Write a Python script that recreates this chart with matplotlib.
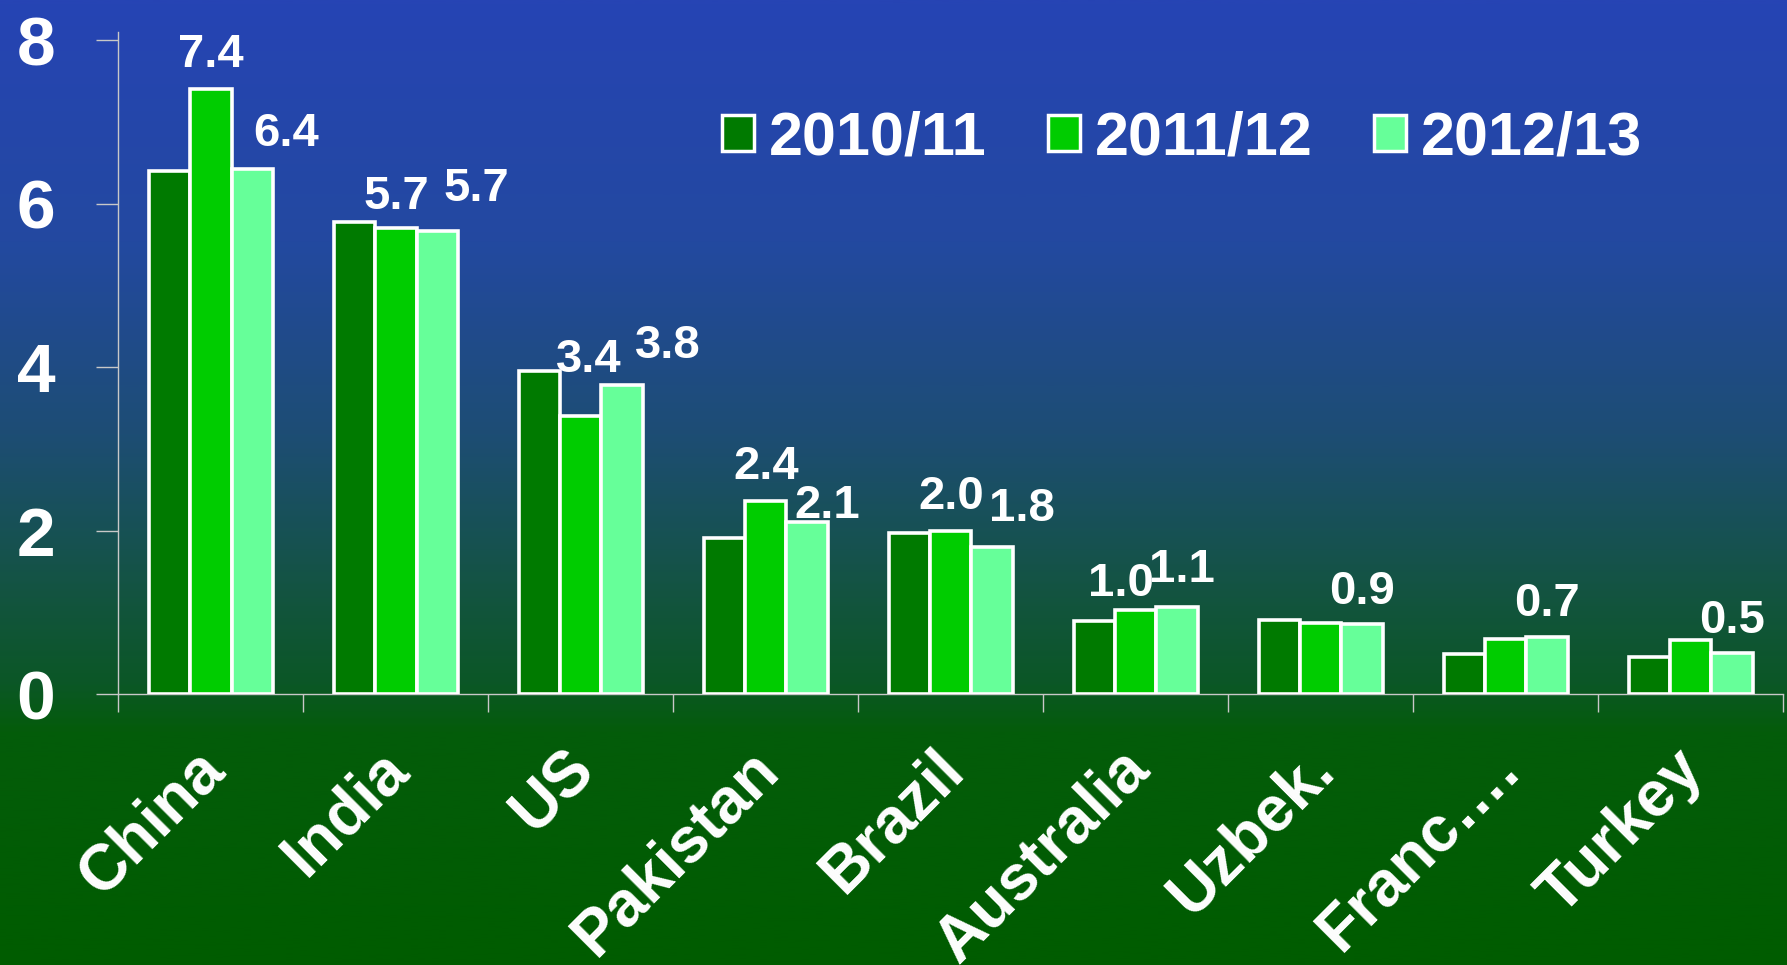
import numpy as np
import matplotlib
matplotlib.use('Agg')
import matplotlib.pyplot as plt
import matplotlib.transforms as mtransforms
from matplotlib.colors import LinearSegmentedColormap
from matplotlib.patches import Patch

countries = ['China', 'India', 'US', 'Pakistan', 'Brazil', 'Australia', 'Uzbek.', 'Franc\u2026.', 'Turkey']
seasons = ['2010/11', '2011/12', '2012/13']
crop_1011 = [6.4, 5.77, 3.95, 1.91, 1.97, 0.89, 0.91, 0.49, 0.45]
crop_1112 = [7.4, 5.7, 3.4, 2.36, 2.0, 1.03, 0.87, 0.67, 0.66]
crop_1213 = [6.42, 5.67, 3.78, 2.1, 1.8, 1.07, 0.86, 0.70, 0.50]
labels_1112 = ['7.4', '5.7', '3.4', '2.4', '2.0', '1.0', '', '', '']
labels_1213 = ['6.4', '5.7', '3.8', '2.1', '1.8', '1.1', '0.9', '0.7', '0.5']
yticks = [0, 2, 4, 6, 8]

# the labels in the source sit a bit off their bars, nudged by hand
nudge_1112 = [(0, .27), (0, .24), (.04, .54), (0, .27), (0, .27), (-.08, .17), (0, 0), (0, 0), (0, 0)]
nudge_1213 = [(.185, .28), (.21, .36), (.25, .33), (.11, .05), (.16, .32), (.025, .30), (0, .24), (0, .26), (0, .25)]

colors = ['#007a00', '#00cc00', '#66ff99']
plt.rcParams['font.family'] = ['Liberation Sans', 'DejaVu Sans']
plt.rcParams['font.weight'] = 'bold'

fig = plt.figure(figsize=(17.87, 9.65), dpi=100)

# background gradient, blue at the top running into dark green
bg = fig.add_axes([0, 0, 1, 1], zorder=-10)
bg_cmap = LinearSegmentedColormap.from_list('bg', [
    (0.0, '#2644b4'), (0.25, '#2349a0'), (0.45, '#1d4d74'),
    (0.62, '#13543f'), (0.71, '#0b5726'), (0.76, '#045c0a'), (1.0, '#005c00')])
bg.imshow(np.linspace(0, 1, 400).reshape(-1, 1), aspect='auto', cmap=bg_cmap,
          extent=[0, 1, 0, 1], origin='upper')
bg.set_axis_off()

ax = fig.add_axes([0.0663, 0.2808, 0.9317, 0.686])
ax.set_facecolor('none')

x = np.arange(len(countries))
w = 0.222
for i, (vals, c) in enumerate(zip([crop_1011, crop_1112, crop_1213], colors)):
    ax.bar(x + (i - 1) * w, vals, w, color=c, edgecolor='white', linewidth=2.6,
           label=seasons[i], zorder=3)

for labels, nudges, vals, k in [(labels_1112, nudge_1112, crop_1112, 0),
                                (labels_1213, nudge_1213, crop_1213, 1)]:
    for i, (lab, (dx, dy)) in enumerate(zip(labels, nudges)):
        if lab:
            ax.text(x[i] + k * w + dx, vals[i] + dy, lab, ha='center', va='baseline',
                    color='white', fontsize=34, fontweight='bold', zorder=4)

ax.set_xlim(-0.5, len(countries) - 0.5)
ax.set_ylim(0, 8.1)
ax.set_yticks(yticks)
ax.set_yticklabels([str(t) for t in yticks])
ax.set_xticks(np.arange(len(countries) + 1) - 0.5)
ax.set_xticklabels([])
ax.set_xticks(x, minor=True)
ax.set_xticklabels(countries, minor=True)

for s in ['top', 'right']:
    ax.spines[s].set_visible(False)
for s in ['left', 'bottom']:
    ax.spines[s].set_color('#c8c8c8')
    ax.spines[s].set_linewidth(1)

ax.tick_params(axis='y', direction='out', length=15.6, width=1, color='#c8c8c8',
               labelcolor='white', labelsize=50, pad=30)
ax.tick_params(axis='x', which='major', direction='out', length=13, width=1, color='#c8c8c8')
ax.tick_params(axis='x', which='minor', length=0, labelcolor='white', labelsize=46, pad=56)

shift = mtransforms.ScaledTranslation(11 / 72, 0, fig.dpi_scale_trans)
for lab in ax.get_xticklabels(minor=True):
    lab.set_rotation(45)
    lab.set_ha('right')
    lab.set_va('baseline')
    lab.set_rotation_mode('anchor')
    lab.set_fontweight('bold')
    lab.set_transform(lab.get_transform() + shift)
for lab in ax.get_yticklabels():
    lab.set_fontweight('bold')

handles = [Patch(facecolor=c, edgecolor='white', linewidth=2.5) for c in colors]
fig.legend(handles, seasons, loc='center left', bbox_to_anchor=(0.404, 0.856),
           ncol=3, frameon=False, fontsize=44, handlelength=0.52, handleheight=0.52,
           handletextpad=0.25, columnspacing=1.0, borderpad=0, borderaxespad=0,
           labelcolor='white', prop={'weight': 'bold', 'size': 44})

fig.savefig('out.png', dpi=100)
